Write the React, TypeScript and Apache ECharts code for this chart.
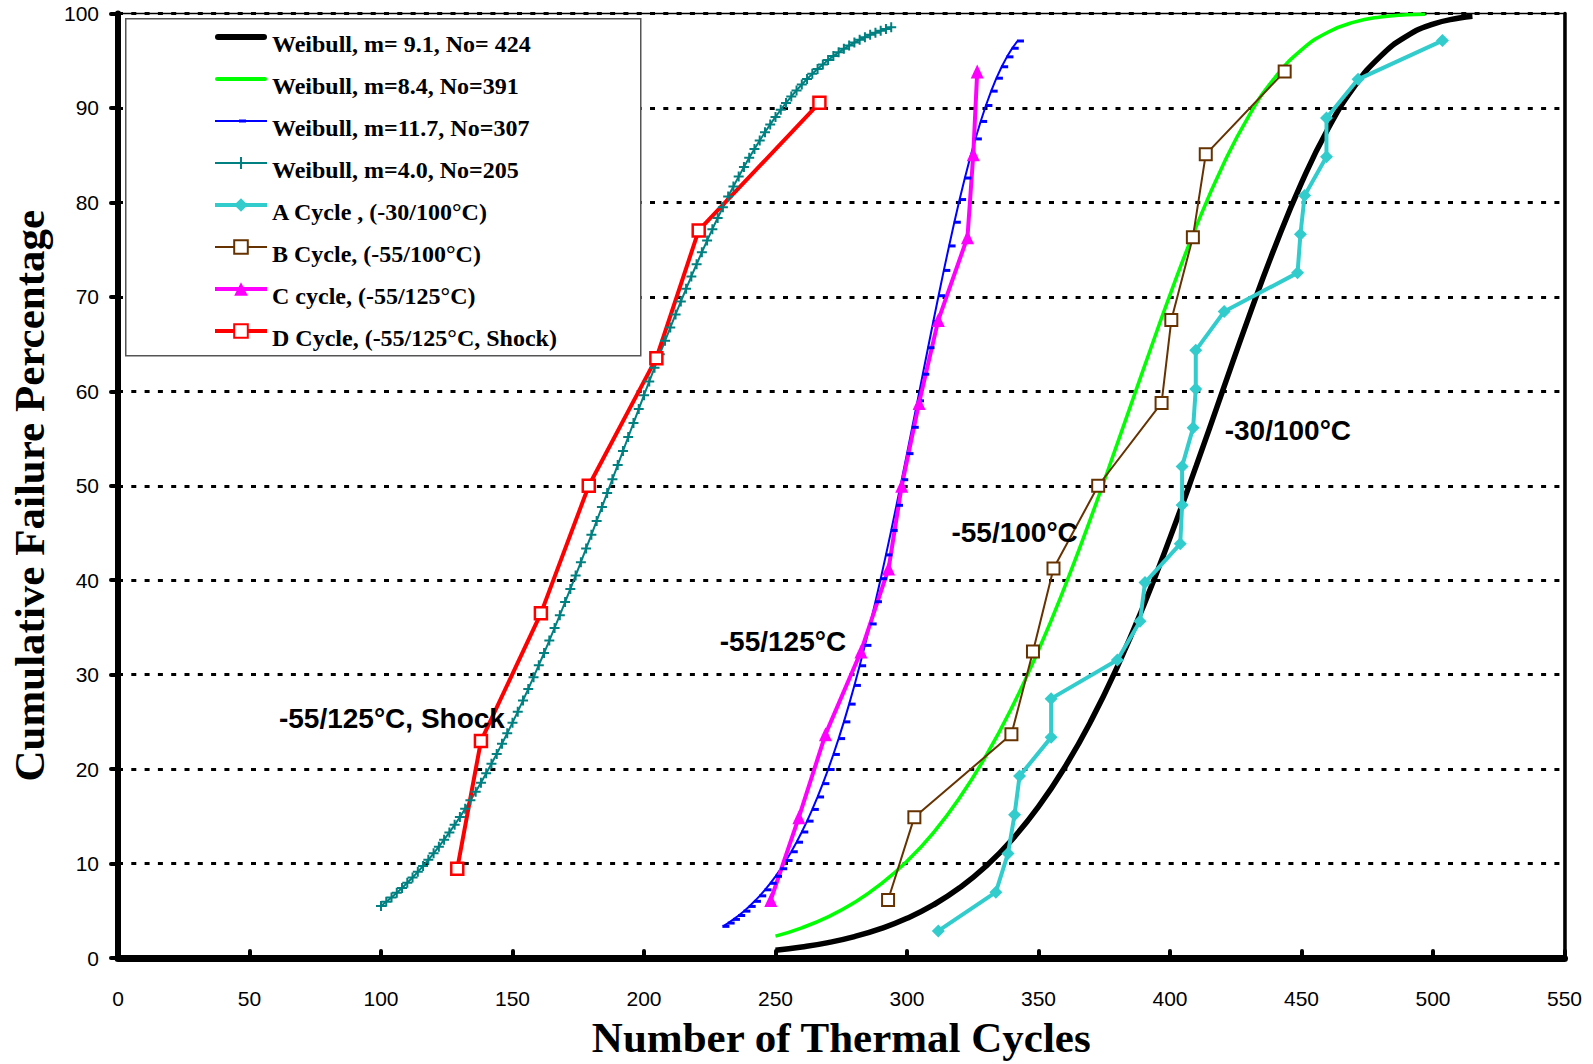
import React, { useEffect, useRef } from "react";
import * as echarts from "echarts";

// ---- Weibull fit curves ----
const blackX = [250, 260, 270, 280, 290, 300, 310, 320, 330, 340, 350, 360, 370, 380, 390, 400, 410, 420, 430, 440, 450, 460, 470, 480, 490, 500, 510, 515];
const blackY = [0.81, 1.16, 1.63, 2.27, 3.11, 4.2, 5.62, 7.43, 9.71, 12.55, 16.02, 20.2, 25.13, 30.86, 37.33, 44.48, 52.13, 60.04, 67.91, 75.36, 82.07, 87.75, 92.22, 95.46, 97.6, 98.87, 99.53, 99.72];

const greenX = [250, 260, 270, 280, 290, 300, 310, 320, 330, 340, 350, 360, 370, 380, 390, 400, 410, 420, 430, 440, 450, 460, 470, 480, 490, 497];
const greenY = [2.31, 3.2, 4.36, 5.87, 7.81, 10.24, 13.26, 16.96, 21.39, 26.59, 32.59, 39.32, 46.68, 54.48, 62.42, 70.2, 77.46, 83.86, 89.17, 93.25, 96.15, 98.01, 99.08, 99.63, 99.87, 99.93];

const blueX = [230, 232, 234, 236, 238, 240, 242, 244, 246, 248, 250, 252, 254, 256, 258, 260, 262, 264, 266, 268, 270, 272, 274, 276, 278, 280, 282, 284, 286, 288, 290, 292, 294, 296, 298, 300, 302, 304, 306, 308, 310, 312, 314, 316, 318, 320, 322, 324, 326, 328, 330, 332, 334, 336, 338, 340, 342];
const blueY = [3.35, 3.7, 4.09, 4.5, 4.96, 5.46, 6.0, 6.58, 7.22, 7.91, 8.65, 9.45, 10.32, 11.25, 12.26, 13.34, 14.49, 15.73, 17.05, 18.46, 19.96, 21.55, 23.23, 25.0, 26.88, 28.86, 30.94, 33.1, 35.37, 37.72, 40.16, 42.68, 45.27, 47.93, 50.64, 53.4, 56.19, 58.99, 61.81, 64.61, 67.39, 70.12, 72.8, 75.39, 77.9, 80.3, 82.58, 84.72, 86.72, 88.57, 90.26, 91.78, 93.15, 94.36, 95.41, 96.32, 97.09];

const tealX = [100, 102, 104, 106, 108, 110, 112, 114, 116, 118, 120, 122, 124, 126, 128, 130, 132, 134, 136, 138, 140, 142, 144, 146, 148, 150, 152, 154, 156, 158, 160, 162, 164, 166, 168, 170, 172, 174, 176, 178, 180, 182, 184, 186, 188, 190, 192, 194, 196, 198, 200, 202, 204, 206, 208, 210, 212, 214, 216, 218, 220, 222, 224, 226, 228, 230, 232, 234, 236, 238, 240, 242, 244, 246, 248, 250, 252, 254, 256, 258, 260, 262, 264, 266, 268, 270, 272, 274, 276, 278, 280, 282, 284, 286, 288, 290, 292, 294];
const tealY = [5.5, 5.95, 6.41, 6.9, 7.41, 7.96, 8.52, 9.12, 9.74, 10.4, 11.08, 11.79, 12.53, 13.3, 14.1, 14.93, 15.79, 16.69, 17.61, 18.56, 19.55, 20.56, 21.61, 22.68, 23.79, 24.92, 26.08, 27.27, 28.49, 29.73, 31.0, 32.29, 33.61, 34.95, 36.3, 37.68, 39.08, 40.49, 41.91, 43.36, 44.81, 46.27, 47.74, 49.22, 50.7, 52.19, 53.67, 55.16, 56.64, 58.12, 59.59, 61.04, 62.49, 63.93, 65.35, 66.75, 68.14, 69.5, 70.85, 72.16, 73.45, 74.72, 75.96, 77.17, 78.35, 79.49, 80.62, 81.69, 82.73, 83.75, 84.72, 85.66, 86.56, 87.43, 88.26, 89.05, 89.81, 90.53, 91.21, 91.86, 92.48, 93.06, 93.61, 94.13, 94.61, 95.07, 95.49, 95.89, 96.26, 96.6, 96.92, 97.22, 97.49, 97.74, 97.97, 98.18, 98.37, 98.55];

// ---- Test data ----
const aCycleX = [311.9, 333.8, 338.4, 340.9, 342.8, 354.8, 354.8, 380.0, 388.6, 390.5, 403.9, 404.6, 404.6, 408.8, 409.8, 409.8, 420.6, 448.5, 449.6, 451.2, 459.5, 459.5, 471.5, 503.6];
const aCycleY = [2.87, 6.97, 11.07, 15.16, 19.26, 23.36, 27.46, 31.56, 35.66, 39.75, 43.85, 47.95, 52.05, 56.15, 60.25, 64.34, 68.44, 72.54, 76.64, 80.74, 84.84, 88.93, 93.03, 97.13];

const bCycleX = [292.8, 302.8, 339.7, 347.9, 355.7, 372.7, 396.8, 400.5, 408.7, 413.6, 443.6];
const bCycleY = [6.14, 14.91, 23.68, 32.46, 41.23, 50.0, 58.77, 67.54, 76.32, 85.09, 93.86];

const cCycleX = [248.2, 258.9, 269.0, 282.5, 293.0, 298.0, 304.6, 311.9, 323.0, 325.2, 326.7];
const cCycleY = [6.14, 14.91, 23.68, 32.46, 41.23, 50.0, 58.77, 67.54, 76.32, 85.09, 93.86];

const dCycleX = [129.0, 138.0, 160.8, 179.0, 204.7, 220.8, 266.7];
const dCycleY = [9.46, 22.97, 36.49, 50.0, 63.51, 77.03, 90.54];

// ---- Names / labels ----
const seriesNames = [
  "Weibull, m= 9.1, No= 424",
  "Weibull, m=8.4, No=391",
  "Weibull, m=11.7, No=307",
  "Weibull, m=4.0, No=205",
  "A Cycle , (-30/100°C)",
  "B Cycle, (-55/100°C)",
  "C cycle, (-55/125°C)",
  "D Cycle, (-55/125°C, Shock)",
];

const annotTexts = ["-30/100°C", "-55/100°C", "-55/125°C", "-55/125°C, Shock"];
const annotX = [420.8, 316.9, 228.8, 61.2];
const annotY = [55.8, 45.1, 33.5, 25.4];

const xTicks = { min: 0, max: 550, interval: 50 };
const yTicks = { min: 0, max: 100, interval: 10 };

const zip = (xs: number[], ys: number[]) => xs.map((x, i) => [x, ys[i]]);

export default function App() {
  const ref = useRef<HTMLDivElement>(null);
  useEffect(() => {
    const chart = echarts.init(ref.current!, null, { renderer: "svg" });
    const serif = "'Liberation Serif', 'Times New Roman', serif";
    const sans = "'Liberation Sans', Arial, sans-serif";
    const plus = "path://M4,0H6V4H10V6H6V10H4V6H0V4H4Z";

    const legendIcons: Record<number, string> = {
      0: "path://M3,0H49A3,3 0 0 1 49,6H3A3,3 0 0 1 3,0Z",
      1: "path://M2,0H50A2,2 0 0 1 50,4H2A2,2 0 0 1 2,0Z",
      2: "path://M0,3H52V5H0Z M24,2.5H31V5.5H24Z",
      3: "path://M0,5H52V7H0Z M25,0H27V12H25Z",
    };

    chart.setOption({
      animation: false,
      backgroundColor: "#fff",
      grid: {
        left: 113.5,
        right: 28.5,
        top: 13.5,
        bottom: 104.7,
        show: true,
        borderColor: "#000",
        borderWidth: 1.5,
        backgroundColor: "transparent",
      },
      legend: {
        data: seriesNames.map((n, i) => (legendIcons[i] ? { name: n, icon: legendIcons[i] } : { name: n })),
        orient: "vertical",
        left: 213,
        top: 18,
        padding: 0,
        itemWidth: 52,
        itemHeight: 17,
        itemGap: 4,
        selectedMode: false,
        lineStyle: { width: "inherit" },
        formatter: "{t|{name}}",
        textStyle: {
          fontFamily: serif,
          fontWeight: "bold",
          fontSize: 24,
          color: "#000",
          rich: {
            t: {
              fontFamily: serif,
              fontWeight: "bold",
              fontSize: 24,
              color: "#000",
              lineHeight: 26,
              padding: [14, 0, 0, 0],
            },
          },
        },
        z: 10,
      },
      graphic: [
        {
          type: "rect",
          left: 125,
          top: 18,
          z: 8,
          shape: { width: 515, height: 337 },
          style: { fill: "#fff", stroke: "#555", lineWidth: 1.5 },
        },
      ],
      xAxis: {
        type: "value",
        ...xTicks,
        name: "Number of Thermal Cycles",
        nameLocation: "middle",
        nameGap: 58,
        nameTextStyle: { fontFamily: serif, fontWeight: "bold", fontSize: 43, color: "#000" },
        axisLine: { show: true, onZero: false, lineStyle: { color: "#000", width: 7, cap: "round" } },
        axisTick: { show: true, inside: true, length: 7, lineStyle: { color: "#000", width: 4, cap: "round" } },
        axisLabel: { margin: 30, fontFamily: sans, fontSize: 21, color: "#000" },
        splitLine: { show: false },
      },
      yAxis: [
        {
          type: "value",
          ...yTicks,
          name: "Cumulative Failure Percentage",
          nameLocation: "middle",
          nameGap: 67,
          nameRotate: 90,
          nameTextStyle: {
            fontFamily: serif,
            fontWeight: "bold",
            fontSize: 43,
            color: "#000",
            padding: [0, 20, 0, 0],
          },
          axisLine: { show: true, onZero: false, lineStyle: { color: "#000", width: 6, cap: "round" } },
          axisTick: { show: true, inside: false, length: 7, lineStyle: { color: "#000", width: 4, cap: "round" } },
          axisLabel: { margin: 19, fontFamily: sans, fontSize: 21, color: "#000" },
          splitLine: { show: true, lineStyle: { color: "#000", width: 3, type: [5, 8.3] } },
        },
        {
          type: "value",
          ...yTicks,
          position: "right",
          axisLine: { show: true, onZero: false, lineStyle: { color: "#000", width: 3.5 } },
          axisTick: { show: false },
          axisLabel: { show: false },
          splitLine: { show: false },
        },
      ],
      series: [
        {
          name: seriesNames[0],
          type: "line",
          data: zip(blackX, blackY),
          smooth: true,
          symbol: "none",
          lineStyle: { color: "#000", width: 5.5 },
          itemStyle: { color: "#000" },
        },
        {
          name: seriesNames[1],
          type: "line",
          data: zip(greenX, greenY),
          smooth: true,
          symbol: "none",
          lineStyle: { color: "#00FF00", width: 3.5 },
          itemStyle: { color: "#00FF00" },
        },
        {
          name: seriesNames[2],
          type: "line",
          data: zip(blueX, blueY),
          symbol: "rect",
          symbolSize: [7, 3],
          symbolOffset: [3, 0],
          lineStyle: { color: "#0000FF", width: 2 },
          itemStyle: { color: "#0000FF" },
        },
        {
          name: seriesNames[3],
          type: "line",
          data: zip(tealX, tealY),
          symbol: plus,
          symbolSize: 10,
          lineStyle: { color: "#008080", width: 2 },
          itemStyle: { color: "#008080" },
        },
        {
          name: seriesNames[4],
          type: "line",
          data: zip(aCycleX, aCycleY),
          symbol: "diamond",
          symbolSize: 13,
          lineStyle: { color: "#33CCCC", width: 4 },
          itemStyle: { color: "#33CCCC" },
        },
        {
          name: seriesNames[5],
          type: "line",
          data: zip(bCycleX, bCycleY),
          symbol: "rect",
          symbolSize: 12,
          lineStyle: { color: "#663300", width: 2 },
          itemStyle: { color: "#fff", borderColor: "#663300", borderWidth: 2 },
        },
        {
          name: seriesNames[6],
          type: "line",
          data: zip(cCycleX, cCycleY),
          symbol: "triangle",
          symbolSize: [13, 14],
          lineStyle: { color: "#FF00FF", width: 4 },
          itemStyle: { color: "#FF00FF" },
        },
        {
          name: seriesNames[7],
          type: "line",
          data: zip(dCycleX, dCycleY),
          symbol: "rect",
          symbolSize: 12,
          lineStyle: { color: "#FF0000", width: 4 },
          itemStyle: { color: "#fff", borderColor: "#FF0000", borderWidth: 2.5 },
        },
        {
          name: "annotations",
          type: "scatter",
          silent: true,
          symbolSize: 0,
          z: 6,
          itemStyle: { opacity: 1 },
          data: annotTexts.map((t, i) => ({ name: t, value: [annotX[i], annotY[i]] })),
          label: {
            show: true,
            position: "right",
            distance: 0,
            formatter: "{b}",
            fontFamily: sans,
            fontWeight: "bold",
            fontSize: 28,
            color: "#000",
          },
        },
      ],
    });
    return () => chart.dispose();
  }, []);
  return (
    <div
      ref={ref}
      style={{ position: "fixed", left: 0, top: 0, width: 1593, height: 1064, background: "#fff" }}
    />
  );
}
